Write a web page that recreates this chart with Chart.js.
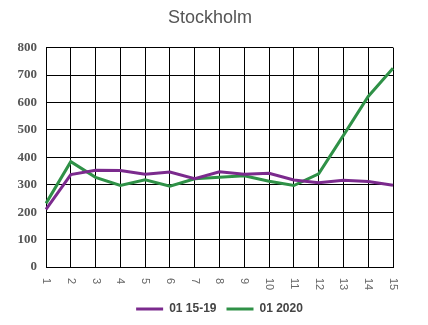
<!DOCTYPE html>
<html>
<head>
<meta charset="utf-8">
<script src="https://cdn.jsdelivr.net/npm/chart.js@4/dist/chart.umd.min.js"></script>
<style>
  html, body { margin: 0; padding: 0; background: #fff; }
  #c { display: block; }
</style>
</head>
<body>
<canvas id="c" width="428" height="325"></canvas>
<script>
// Week numbers along the x axis
const weeks = ['1','2','3','4','5','6','7','8','9','10','11','12','13','14','15'];
// Average weekly deaths, weeks 1-15, years 2015-19
const avg1519 = [210, 337, 353, 352, 338, 346, 322, 347, 338, 342, 317, 307, 316, 312, 298];
// Weekly deaths 2020
const y2020 = [232, 384, 327, 297, 318, 295, 322, 327, 333, 313, 297, 340, 480, 622, 725];
// Y axis range
const yMin = 0, yMax = 800, yStep = 100;

const PURPLE = '#7b2a8d';
const GREEN = '#2f9147';

// Week labels are written top-to-bottom under each grid line
const verticalWeekLabels = {
  id: 'verticalWeekLabels',
  afterDraw(chart) {
    const ctx = chart.ctx;
    const xs = chart.scales.x;
    const top = chart.chartArea.bottom + 11;
    ctx.save();
    ctx.fillStyle = '#666';
    ctx.font = '11px "Liberation Sans", Arial, sans-serif';
    ctx.textAlign = 'left';
    ctx.textBaseline = 'middle';
    weeks.forEach((lab, i) => {
      const x = xs.getPixelForValue(i);
      ctx.save();
      ctx.translate(x, top);
      ctx.rotate(Math.PI / 2);
      ctx.fillText(lab, 0, 0);
      ctx.restore();
    });
    ctx.restore();
  }
};

new Chart(document.getElementById('c'), {
  type: 'line',
  data: {
    labels: weeks,
    datasets: [
      { label: '01 15-19', data: avg1519, borderColor: PURPLE, backgroundColor: PURPLE,
        borderWidth: 3, pointRadius: 0, tension: 0, fill: false },
      { label: '01 2020', data: y2020, borderColor: GREEN, backgroundColor: GREEN,
        borderWidth: 3, pointRadius: 0, tension: 0, fill: false }
    ]
  },
  options: {
    responsive: false,
    animation: false,
    layout: { padding: { left: 0, right: 8, top: 0, bottom: 0 } },
    plugins: {
      title: {
        display: true,
        text: 'Stockholm',
        color: '#555',
        font: { family: '"Liberation Sans", Arial, sans-serif', size: 18, weight: 'normal' },
        padding: { top: 7, bottom: 19 }
      },
      legend: {
        position: 'bottom',
        fullSize: false,
        labels: {
          usePointStyle: true,
          pointStyle: 'line',
          pointStyleWidth: 27,
          color: '#444',
          padding: 10,
          font: { family: '"Liberation Sans", Arial, sans-serif', size: 12, weight: 'bold' }
        }
      },
      tooltip: { enabled: false }
    },
    scales: {
      x: {
        offset: false,
        grid: { color: '#000', lineWidth: 1, drawTicks: false },
        border: { color: '#000', width: 1 },
        ticks: { display: false },
        afterFit(scale) { scale.height = 26; }
      },
      y: {
        min: yMin,
        max: yMax,
        grid: { color: '#000', lineWidth: 1, drawTicks: false },
        border: { color: '#000', width: 1 },
        ticks: {
          stepSize: yStep,
          padding: 9,
          color: '#555',
          font: { family: '"Liberation Serif", "Times New Roman", serif', size: 13, weight: 'bold' }
        },
        afterFit(scale) { scale.width = 46; }
      },
      // empty margin on the right of the plot
      yRight: {
        position: 'right',
        min: yMin,
        max: yMax,
        grid: { display: false, drawTicks: false },
        border: { display: false },
        ticks: { display: false },
        afterFit(scale) { scale.width = 27; }
      }
    }
  },
  plugins: [verticalWeekLabels]
});
</script>
</body>
</html>
